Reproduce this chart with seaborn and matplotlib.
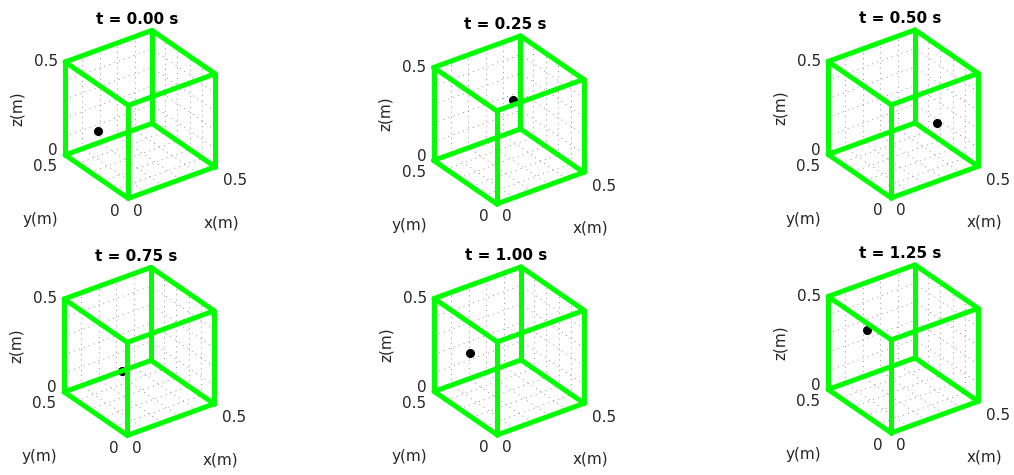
import itertools

import numpy as np
import matplotlib
matplotlib.use("Agg")
import matplotlib.pyplot as plt
from matplotlib.transforms import offset_copy
import seaborn as sns

sns.set_theme(style="white")
plt.rcParams["font.family"] = ["DejaVu Sans"]

# Snapshot times and ball position (m) at each snapshot
times = [0.00, 0.25, 0.50, 0.75, 1.00, 1.25]
ball_x = [0.10, 0.30, 0.40, 0.25, 0.15, 0.20]
ball_y = [0.376, 0.287, 0.186, 0.383, 0.42, 0.466]
ball_z = [0.151, 0.323, 0.180, 0.081, 0.193, 0.268]

# Container box and axis ticks
box_size = 0.5
tick_values = [0.0, 0.5]
tick_labels = ["0", "0.5"]
grid_lines = [0.1, 0.2, 0.3, 0.4]

W, H, DPI = 1014, 475, 100
AX_PX = 230          # side of each (square) 3D axes, pixels
ZOOM = 0.785
ELEV, AZIM = 30, -126
EDGE_COLOR = "#00ff00"
TEXT_COLOR = "0.15"
FS = 11

# centre of each panel's box, pixels from top-left
centers = [(140, 114.5), (508.5, 120), (903, 114),
           (139, 351.5), (509, 351), (903, 349)]

fig = plt.figure(figsize=(W / DPI, H / DPI), dpi=DPI)
fig.patch.set_facecolor("white")

L = box_size
corners = list(itertools.product([0, L], repeat=3))
edges = [(a, b) for a, b in itertools.combinations(corners, 2)
         if sum(ai != bi for ai, bi in zip(a, b)) == 1]


def project(ax, x, y, z):
    """Map a 3D data point to the axes' 2D projected coordinates."""
    v = ax.get_proj() @ np.array([x, y, z, 1.0])
    return v[0] / v[3], v[1] / v[3]


for i, t in enumerate(times):
    cx, cy = centers[i]
    acx, acy = cx - 3, cy + 3     # projected box sits slightly up-right of centre
    S = AX_PX
    ax = fig.add_axes([(acx - S / 2) / W, (H - acy - S / 2) / H, S / W, S / H],
                      projection="3d", proj_type="ortho", computed_zorder=False)
    ax.set_xlim(0, L)
    ax.set_ylim(0, L)
    ax.set_zlim(0, L)
    ax.set_box_aspect((1, 1, 1), zoom=ZOOM)
    ax.view_init(elev=ELEV, azim=AZIM)
    ax.set_axis_off()

    # dotted grid on the three back walls
    grid_kw = dict(color="0.45", lw=0.5, ls=(0, (1.5, 6)), zorder=1)
    for g in grid_lines:
        ax.plot([L, L], [g, g], [0, L], **grid_kw)
        ax.plot([L, L], [0, L], [g, g], **grid_kw)
        ax.plot([g, g], [L, L], [0, L], **grid_kw)
        ax.plot([0, L], [L, L], [g, g], **grid_kw)
        ax.plot([g, g], [0, L], [0, 0], **grid_kw)
        ax.plot([0, L], [g, g], [0, 0], **grid_kw)

    ax.plot([ball_x[i]], [ball_y[i]], [ball_z[i]], "o", color="black",
            ms=5.5, zorder=2)

    for a, b in edges:
        ax.plot([a[0], b[0]], [a[1], b[1]], [a[2], b[2]], color=EDGE_COLOR,
                lw=3.6, solid_capstyle="round", zorder=3)

    def label(x, y, z, s, dx, dy, **kw):
        px, py = project(ax, x, y, z)
        tr = offset_copy(ax.transData, fig=fig, x=dx, y=dy, units="dots")
        ax.text2D(px, py, s, transform=tr, fontsize=FS, color=TEXT_COLOR, **kw)

    # z ticks on the left vertical edge
    for v, s in zip(tick_values, tick_labels):
        label(0, L, v, s, -7, 4 if v == 0 else 0, ha="right", va="center")
    # y ticks along the left bottom edge
    for v, s in zip(tick_values, tick_labels):
        dx, dy = (-13, -13) if v == 0 else (-20, -12)
        label(0, v, 0, s, dx, dy, ha="center", va="center")
    # x ticks along the right bottom edge
    for v, s in zip(tick_values, tick_labels):
        dx, dy = (10, -13) if v == 0 else (20, -14)
        label(v, 0, 0, s, dx, dy, ha="center", va="center")

    label(0, L / 2, 0, "y(m)", -56, -43, ha="center", va="center")
    label(L / 2, 0, 0, "x(m)", 50, -40, ha="center", va="center")
    label(0, L, L / 2, "z(m)", -48, 0, ha="center", va="center", rotation=90)

    ax.set_title(f"t = {t:.2f} s", fontsize=FS, fontweight="bold",
                 color="black", y=0.5 + 117 / S, pad=0, va="center")

fig.savefig("out.png", dpi=DPI, facecolor="white")
